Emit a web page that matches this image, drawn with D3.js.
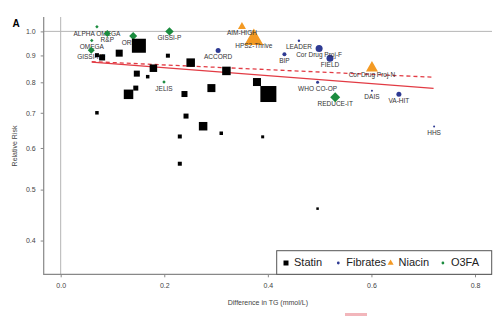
<!DOCTYPE html>
<html>
<head>
<meta charset="utf-8">
<script src="https://cdn.jsdelivr.net/npm/d3@7"></script>
<style>
  body { margin: 0; background: #fff; }
  svg { display: block; font-family: "Liberation Sans", Arial, sans-serif; }
</style>
</head>
<body>
<div id="chart"></div>
<script>
// tick labels
var xTicks = [0, 0.2, 0.4, 0.6, 0.8];
var yTicks = [0.4, 0.5, 0.6, 0.7, 0.8, 0.9, 1.0];

// statin trials (no labels)
var statinTG = [0.070, 0.080, 0.113, 0.151, 0.207, 0.251, 0.320, 0.179, 0.147, 0.168, 0.145, 0.131,
                0.239, 0.291, 0.070, 0.242, 0.275, 0.230, 0.310, 0.230, 0.379, 0.401, 0.390, 0.496];
var statinRR = [0.901, 0.892, 0.909, 0.939, 0.899, 0.872, 0.841, 0.851, 0.831, 0.820, 0.780, 0.759,
                0.760, 0.780, 0.700, 0.690, 0.660, 0.631, 0.640, 0.560, 0.801, 0.760, 0.630, 0.460];
var statinW = [4, 6, 7, 14, 4, 8.5, 8.5, 7.5, 6, 3.5, 5, 9.5, 6, 8, 3.5, 5, 8.5, 4, 3.5, 4, 8, 16, 3, 2.5];

// fibrate trials
var fibrateNames = ["ACCORD", "LEADER", "BIP", "Cor Drug Proj-F", "FIELD", "WHO CO-OP", "DAIS", "VA-HIT", "HHS"];
var fibrateTG = [0.304, 0.460, 0.432, 0.499, 0.520, 0.496, 0.601, 0.653, 0.721];
var fibrateRR = [0.920, 0.960, 0.905, 0.928, 0.889, 0.800, 0.771, 0.759, 0.659];
var fibrateW = [5, 2.4, 4, 7, 7, 3, 2, 5, 2];

// niacin trials
var niacinNames = ["AIM-HIGH", "HPS2-Thrive", "Cor Drug Proj-N"];
var niacinTG = [0.350, 0.373, 0.601];
var niacinRR = [1.021, 0.965, 0.852];
var niacinW = [8, 19, 12];

// omega-3 fatty acid trials
var o3faNames = ["ALPHA OMEGA", "R&P", "OMEGA", "GISSI-HF", "ORIGIN", "GISSI-P", "JELIS", "REDUCE-IT"];
var o3faTG = [0.070, 0.090, 0.060, 0.059, 0.140, 0.210, 0.1995, 0.530];
var o3faRR = [1.020, 0.991, 0.961, 0.921, 0.980, 1.000, 0.801, 0.749];
var o3faW = [3.5, 7, 3.5, 7, 8, 8.5, 3.5, 10];

// meta-regression lines
var fitTG = [0.06, 0.72];
var fitSolidRR = [0.874, 0.779];
var fitDashedRR = [0.876, 0.818];

var legendNames = ["Statin", "Fibrates", "Niacin", "O3FA"];

var colors = {
  statin: "#000000",
  fibrate: "#2e3a93",
  niacin: "#f39a24",
  o3fa: "#1b8c3f"
};

var width = 499, height = 316;
var margin = { left: 43.7, right: 7, top: 17, bottom: 41.7 };

var svg = d3.select("#chart").append("svg")
  .attr("width", width)
  .attr("height", height);

var x = d3.scaleLinear().domain([-0.0328, 0.8328]).range([margin.left, width - margin.right]);
var y = d3.scaleLog().domain([0.345, 1.065]).range([height - margin.bottom, margin.top]);
var size = d3.scaleLinear().domain([0, 16]).range([0, 16]);

// reference lines
svg.append("line")
  .attr("x1", x(0)).attr("x2", x(0))
  .attr("y1", margin.top).attr("y2", height - margin.bottom)
  .attr("stroke", "#b5b5b5").attr("stroke-width", 1);
svg.append("line")
  .attr("x1", margin.left).attr("x2", width - margin.right)
  .attr("y1", y(1)).attr("y2", y(1))
  .attr("stroke", "#b5b5b5").attr("stroke-width", 1);

// axes
var xAxis = svg.append("g")
  .attr("transform", "translate(0," + (height - margin.bottom) + ")")
  .call(d3.axisBottom(x).tickValues(xTicks).tickFormat(d3.format(".1f")).tickSize(3).tickPadding(6));
var yAxis = svg.append("g")
  .attr("transform", "translate(" + margin.left + ",0)")
  .call(d3.axisLeft(y).tickValues(yTicks).tickFormat(d3.format(".1f")).tickSize(3).tickPadding(5));

[xAxis, yAxis].forEach(function(g) {
  g.select(".domain").remove();
  g.selectAll("line").attr("stroke", "#888");
  g.selectAll("text").attr("fill", "#444").style("font-size", "7px");
});
svg.append("path")
  .attr("d", "M" + margin.left + "," + margin.top + "V" + (height - margin.bottom) + "H" + (width - margin.right))
  .attr("fill", "none").attr("stroke", "#888").attr("stroke-width", 1.2);

// axis titles
svg.append("text")
  .attr("transform", "translate(15," + 146 + ") rotate(-90)")
  .attr("text-anchor", "middle")
  .attr("dominant-baseline", "middle")
  .attr("fill", "#444")
  .style("font-size", "7px")
  .text("Relative Risk");
svg.append("text")
  .attr("x", x(0.4)).attr("y", 303)
  .attr("text-anchor", "middle")
  .attr("dominant-baseline", "middle")
  .attr("fill", "#444")
  .style("font-size", "7px")
  .text("Difference in TG (mmol/L)");
svg.append("text")
  .attr("x", 12.5).attr("y", 27)
  .attr("font-weight", "bold")
  .style("font-size", "10px")
  .text("A");

// fit lines
var fitLine = d3.line()
  .x(function(d) { return x(d[0]); })
  .y(function(d) { return y(d[1]); });
svg.append("path")
  .datum(d3.zip(fitTG, fitSolidRR))
  .attr("d", fitLine)
  .attr("fill", "none").attr("stroke", "#e23b44").attr("stroke-width", 1.3);
svg.append("path")
  .datum(d3.zip(fitTG, fitDashedRR))
  .attr("d", fitLine)
  .attr("fill", "none").attr("stroke", "#e23b44").attr("stroke-width", 1.3)
  .attr("stroke-dasharray", "4,3");

var fibrates = fibrateNames.map(function(n, i) { return { name: n, tg: fibrateTG[i], rr: fibrateRR[i], w: fibrateW[i] }; });
var niacins = niacinNames.map(function(n, i) { return { name: n, tg: niacinTG[i], rr: niacinRR[i], w: niacinW[i] }; });
var o3fas = o3faNames.map(function(n, i) { return { name: n, tg: o3faTG[i], rr: o3faRR[i], w: o3faW[i] }; });
var statins = statinTG.map(function(t, i) { return { tg: t, rr: statinRR[i], w: statinW[i] }; });

// symbol helpers: w is the marker width in px
var circle = function(d) { var r = size(d.w) / 2; return d3.symbol(d3.symbolCircle, Math.PI * r * r)(); };
var triangle = function(d) { var s = size(d.w); return d3.symbol(d3.symbolTriangle, s * s * Math.sqrt(3) / 4)(); };
var diamond = function(d) { var s = size(d.w); return d3.symbol(d3.symbolSquare, s * s / 2)(); };

svg.append("g").selectAll("path")
  .data(fibrates).enter().append("path")
  .attr("d", circle)
  .attr("transform", function(d) { return "translate(" + x(d.tg) + "," + y(d.rr) + ")"; })
  .attr("fill", colors.fibrate);

svg.append("g").selectAll("path")
  .data(niacins).enter().append("path")
  .attr("d", triangle)
  .attr("transform", function(d) { return "translate(" + x(d.tg) + "," + y(d.rr) + ")"; })
  .attr("fill", colors.niacin);

// labels under each named trial
svg.append("g").selectAll("text")
  .data(fibrates.concat(niacins, o3fas)).enter().append("text")
  .attr("x", function(d) { return x(d.tg); })
  .attr("y", function(d) { return y(d.rr) + 7; })
  .attr("text-anchor", "middle")
  .attr("dominant-baseline", "middle")
  .attr("fill", "#333")
  .style("font-size", "6.5px")
  .text(function(d) { return d.name; });

svg.append("g").selectAll("path")
  .data(o3fas).enter().append("path")
  .attr("d", diamond)
  .attr("transform", function(d) { return "translate(" + x(d.tg) + "," + y(d.rr) + ") rotate(45)"; })
  .attr("fill", colors.o3fa);

svg.append("g").selectAll("rect")
  .data(statins).enter().append("rect")
  .attr("x", function(d) { return x(d.tg) - size(d.w) / 2; })
  .attr("y", function(d) { return y(d.rr) - size(d.w) / 2; })
  .attr("width", function(d) { return size(d.w); })
  .attr("height", function(d) { return size(d.w); })
  .attr("fill", colors.statin);

// legend
var legend = svg.append("g");
legend.append("rect")
  .attr("x", 276.7).attr("y", 250.7)
  .attr("width", 215).attr("height", height - margin.bottom - 250.7)
  .attr("fill", "#fff").attr("stroke", "#555").attr("stroke-width", 1);
var legendKeys = ["statin", "fibrate", "niacin", "o3fa"];
var items = legend.selectAll("g.item")
  .data(legendNames).enter().append("g")
  .attr("class", "item")
  .attr("transform", function(d, i) { return "translate(" + (286 + i * 52.3) + ",263)"; });
items.append("path")
  .attr("d", function(d, i) {
    if (i === 0) return d3.symbol(d3.symbolSquare, 25)();
    if (i === 2) return d3.symbol(d3.symbolTriangle, 16)();
    return d3.symbol(d3.symbolCircle, 6)();
  })
  .attr("fill", function(d, i) { return colors[legendKeys[i]]; });
items.append("text")
  .attr("x", 8)
  .attr("dominant-baseline", "middle")
  .attr("fill", "#222")
  .style("font-size", "11px")
  .text(function(d) { return d; });

// cropped remnant at the bottom edge
svg.append("rect")
  .attr("x", 345).attr("y", 313).attr("width", 22).attr("height", 3)
  .attr("fill", "#f2b6bb");
</script>
</body>
</html>
